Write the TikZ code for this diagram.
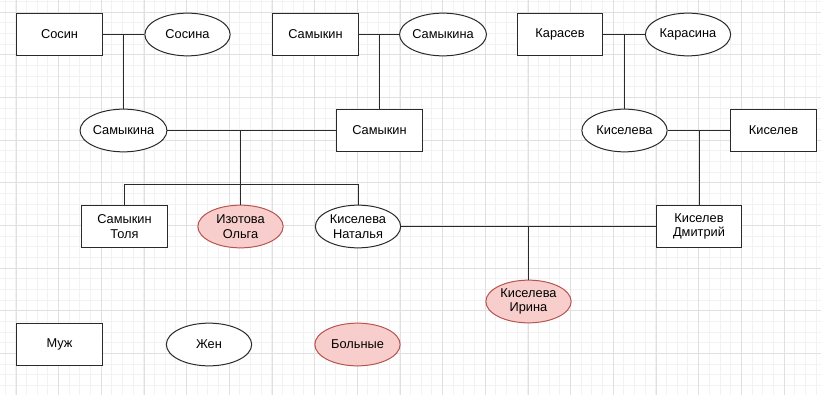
\documentclass[tikz,border=0pt]{standalone}
\usepackage{fontspec}
\setmainfont{Liberation Sans}
\usetikzlibrary{shapes.geometric}
\definecolor{minorgrid}{HTML}{F2F2F2}
\definecolor{majorgrid}{HTML}{E0E0E0}
\definecolor{sickfill}{HTML}{F8CECC}
\definecolor{sickdraw}{HTML}{B85450}
\definecolor{ink}{HTML}{2A2A2A}
\tikzset{
  base/.style={draw=ink, line width=1pt, inner sep=0pt, align=center, text=black,
    font=\fontsize{12.8}{14.5}\selectfont, minimum width=85.3pt, minimum height=42.7pt},
  man/.style={base, rectangle, fill=white},
  woman/.style={base, ellipse, fill=white},
  sick/.style={base, ellipse, fill=sickfill, draw=sickdraw},
  link/.style={draw=ink, line width=1pt},
  minorline/.style={draw=minorgrid, line width=1pt},
  majorline/.style={draw=majorgrid, line width=1pt}
}
\begin{document}
\begin{tikzpicture}[x=1pt,y=-1pt]
\useasboundingbox (0,0) rectangle (821,395);
\fill[white] (0,0) rectangle (821,395);
% grid
\foreach \i in {0,...,76} {\draw[minorline] ({5.3+\i*10.667},0) -- ({5.3+\i*10.667},395);}
\foreach \i in {0,...,36} {\draw[minorline] (0,{1.6+\i*10.667}) -- (821,{1.6+\i*10.667});}
\foreach \i in {0,...,19} {\draw[majorline] ({16+\i*42.667},0) -- ({16+\i*42.667},395);}
\foreach \i in {0,...,9} {\draw[majorline] (0,{12.3+\i*42.667}) -- (821,{12.3+\i*42.667});}

% generation 1
\node[man]   (sosin)     at (59.5,34.5)  {Сосин};
\node[woman] (sosina)    at (187.5,34.5) {Сосина};
\node[man]   (samykin1)  at (315.5,34.5) {Самыкин};
\node[woman] (samykina1) at (443,34.5)   {Самыкина};
\node[man]   (karasev)   at (560,34.5)   {Карасев};
\node[woman] (karasina)  at (688,34.5)   {Карасина};

% generation 2
\node[woman] (samykina2) at (123.5,130.5) {Самыкина};
\node[man]   (samykin2)  at (379.5,130.5) {Самыкин};
\node[woman] (kiseleva)  at (624.5,130.5) {Киселева};
\node[man]   (kiselev)   at (773.5,130.5) {Киселев};

% generation 3
\node[man]   (tolya)   at (124.5,226.5) {Самыкин\\Толя};
\node[sick]  (olga)    at (240.5,226.5) {Изотова\\Ольга};
\node[woman] (natalya) at (358,226.5)   {Киселева\\Наталья};
\node[man]   (dmitry)  at (699,226.5)   {Киселев\\Дмитрий};

% generation 4
\node[sick]  (irina)   at (528.5,301.5) {Киселева\\Ирина};

% legend
\node[man]   (muzh)   at (59.5,344.5)  {Муж};
\node[woman] (zhen)   at (209,344.5)   {Жен};
\node[sick]  (bolnye) at (357.5,344.5) {Больные};

% couples and descent
\draw[link] (sosin) -- (sosina);
\draw[link] (samykina2.north) -- (samykina2.north |- sosin.east);
\draw[link] (samykin1) -- (samykina1);
\draw[link] (samykin2.north) -- (samykin2.north |- samykin1.east);
\draw[link] (karasev) -- (karasina);
\draw[link] (kiseleva.north) -- (kiseleva.north |- karasev.east);

\draw[link] (samykina2) -- (samykin2);
\draw[link] (olga.north |- samykina2.east) -- (olga.north);
\coordinate (cbar) at (240.5,184.5);
\draw[link] (tolya.north) |- (cbar) -| (natalya.north);

\draw[link] (kiseleva) -- (kiselev);
\draw[link] (dmitry.north |- kiseleva.east) -- (dmitry.north);

\draw[link] (natalya) -- (dmitry);
\draw[link] (irina.north |- natalya.east) -- (irina.north);
\end{tikzpicture}
\end{document}
